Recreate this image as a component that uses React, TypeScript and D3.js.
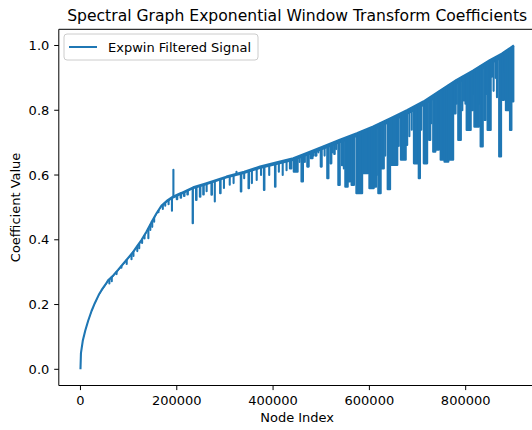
import React from "react";
import * as d3 from "d3";

// Upper envelope of the signal (node index, coefficient)
const envIdx = [0, 1000, 5000, 10000, 16000, 23000, 30000, 38000, 44000, 52000, 58000, 68000, 78000, 88000, 99000, 108000, 117000, 127000, 137000, 147000, 158000, 168000, 179000, 192000, 210000, 234000, 260000, 303000, 340000, 373000, 410000, 442000, 470000, 504000, 540000, 574000, 608000, 643000, 678000, 712000, 746000, 781000, 815000, 850000, 875000, 900000];
const envVal = [0.0, 0.05, 0.09, 0.12, 0.15, 0.18, 0.205, 0.23, 0.245, 0.262, 0.276, 0.29, 0.307, 0.325, 0.344, 0.36, 0.379, 0.4, 0.425, 0.453, 0.482, 0.505, 0.52, 0.533, 0.545, 0.562, 0.574, 0.595, 0.61, 0.626, 0.64, 0.652, 0.668, 0.688, 0.71, 0.729, 0.75, 0.775, 0.8, 0.827, 0.86, 0.894, 0.922, 0.955, 0.975, 1.0];

// Depth of the dense small-scale jitter just below the envelope
const fuzzIdx = [0, 200000, 300000, 400000, 500000, 600000, 700000, 800000, 900000];
const fuzzDepth = [0.004, 0.006, 0.006, 0.008, 0.01, 0.012, 0.015, 0.015, 0.015];

// Excursions away from the envelope: start index, end index, extreme coefficient
const barStart = [60000, 65000, 75000, 85000, 96000, 106000, 110000, 118000, 122000, 128000, 133000, 141000, 145000, 149000, 153000, 162000, 171000, 176000, 183000, 190000, 193000, 200000, 208000, 215000, 222000, 233000, 240000, 248000, 255000, 262000, 272000, 279000, 290000, 298000, 310000, 318000, 324000, 333000, 340000, 349000, 356000, 366000, 375000, 381000, 392000, 404000, 412000, 420000, 428000,
  435000, 443000, 455000, 459000, 466000, 471000, 478000, 484000, 488000, 494000, 499000, 507000, 512500, 519000, 524000, 527000, 531000, 535500, 543000, 547000, 550000, 556000, 563000, 573000, 586000, 600000, 610000, 615500, 618500, 625000, 633000, 638000, 645000, 661000, 665500, 676500,
  683000, 688000, 692500, 702500, 708000, 713000, 724000, 729000, 732500, 738500, 746000, 748000, 756000, 765000, 776500, 781500, 784500, 793000, 796000, 799500, 802000, 812500, 817000, 818000, 829000, 831000, 838500, 843000, 845500, 853000, 858000, 862000, 865000, 869500, 876500, 881000, 883500, 891000, 892000, 896500];
const barEnd = [60000, 65000, 75000, 85000, 96000, 106000, 110000, 118000, 122000, 128000, 133000, 141000, 145000, 149000, 153000, 162000, 171000, 176000, 183000, 190000, 193000, 201000, 209000, 216000, 223000, 233500, 241000, 249000, 256000, 262000, 273000, 279000, 291000, 298000, 310000, 318000, 324000, 334000, 340000, 350000, 356000, 366000, 375000, 382000, 392000, 405000, 412000, 420000, 428000,
  438000, 451000, 455000, 462000, 466000, 474000, 482000, 484000, 490000, 494000, 501000, 507000, 515000, 521000, 524000, 528000, 531000, 538500, 544000, 547000, 555000, 560000, 568000, 585000, 598000, 609000, 614000, 615500, 623500, 630000, 633000, 643000, 658000, 661000, 675500, 678500,
  683000, 688000, 702000, 705000, 708000, 720000, 726500, 729000, 737000, 744500, 746000, 755000, 764000, 774000, 779000, 781500, 790000, 793000, 797500, 799500, 810500, 815000, 817000, 827500, 829000, 835500, 841500, 843000, 852000, 855000, 858000, 862000, 865000, 873500, 879500, 881000, 890000, 891000, 895000, 899000];
const barLow = [0.265, 0.272, 0.294, 0.314, 0.325, 0.34, 0.35, 0.365, 0.374, 0.39, 0.404, 0.405, 0.43, 0.44, 0.456, 0.485, 0.495, 0.505, 0.51, 0.49, 0.616, 0.525, 0.53, 0.535, 0.54, 0.451, 0.523, 0.533, 0.54, 0.55, 0.539, 0.518, 0.544, 0.56, 0.57, 0.575, 0.61, 0.549, 0.59, 0.559, 0.575, 0.585, 0.6, 0.554, 0.6, 0.564, 0.61, 0.6, 0.615,
  0.62, 0.61, 0.64, 0.58, 0.64, 0.626, 0.652, 0.66, 0.66, 0.67, 0.626, 0.66, 0.59, 0.636, 0.67, 0.665, 0.68, 0.569, 0.63, 0.62, 0.564, 0.58, 0.569, 0.544, 0.606, 0.559, 0.564, 0.6, 0.544, 0.62, 0.66, 0.556, 0.631, 0.69, 0.647, 0.693,
  0.72, 0.74, 0.636, 0.59, 0.74, 0.636, 0.708, 0.76, 0.672, 0.678, 0.76, 0.647, 0.641, 0.647, 0.79, 0.82, 0.708, 0.8, 0.83, 0.82, 0.739, 0.8, 0.85, 0.749, 0.82, 0.688, 0.77, 0.85, 0.739, 0.904, 0.86, 0.9, 0.84, 0.657, 0.832, 0.92, 0.8, 0.84, 0.739, 0.827];

const xTicks = [0, 200000, 400000, 600000, 800000];
const yTicks = [0.0, 0.2, 0.4, 0.6, 0.8, 1.0];

const TITLE = "Spectral Graph Exponential Window Transform Coefficients";
const X_LABEL = "Node Index";
const Y_LABEL = "Coefficient Value";
const LEGEND = "Expwin Filtered Signal";

const W = 532, H = 430;
const L = 58.8, R = 535.5, T = 29.3, B = 385.5;
const FONT = "DejaVu Sans, sans-serif";
const BLUE = "#1f77b4";
const LW = 2.1;

export default function App() {
  const x = d3.scaleLinear().domain([-45000, 945000]).range([L, R]);
  const y = d3.scaleLinear().domain([-0.05, 1.05]).range([B, T]);
  const baseAt = d3.scaleLinear().domain(envIdx).range(envVal).clamp(true);
  const depthAt = d3.scaleLinear().domain(fuzzIdx).range(fuzzDepth).clamp(true);

  type P = [number, number];
  const envPts: P[] = envIdx.map((d, i) => [d, envVal[i]]);
  const line = d3.line<P>().x(d => x(d[0])).y(d => y(d[1]));
  const envPath = line(envPts) || "";

  const fuzz = d3.area<number>()
    .x(d => x(d))
    .y0(d => y(baseAt(d) - depthAt(d)))
    .y1(d => y(baseAt(d)));
  const fuzzPath = fuzz(envIdx) || "";

  const barPaths = barStart.map((s, i) => {
    const e = barEnd[i];
    const pts: P[] = [[s, baseAt(s)], [s, barLow[i]], [e, barLow[i]], [e, baseAt(e)]];
    return line(pts) || "";
  });

  return (
    <svg width={W} height={H} style={{ position: "absolute", left: 0, top: 0, background: "#fff" }} fontFamily={FONT}>
      <rect x={0} y={0} width={W} height={H} fill="#fff" />
      <defs>
        <clipPath id="plotclip">
          <rect x={L} y={T} width={R - L} height={B - T} />
        </clipPath>
      </defs>
      <g clipPath="url(#plotclip)">
        <path d={fuzzPath} fill={BLUE} stroke="none" />
        <path d={envPath} fill="none" stroke={BLUE} strokeWidth={LW} strokeLinejoin="round" />
        {barPaths.map((p, i) => (
          <path key={i} d={p} fill={BLUE} stroke={BLUE} strokeWidth={LW} strokeLinejoin="round" />
        ))}
      </g>
      <line x1={L} x2={L} y1={T} y2={B} stroke="#000" strokeWidth={1} />
      <line x1={L} x2={R} y1={B} y2={B} stroke="#000" strokeWidth={1} />
      <line x1={L} x2={R} y1={T} y2={T} stroke="#000" strokeWidth={1} />
      <line x1={R} x2={R} y1={T} y2={B} stroke="#000" strokeWidth={1} />
      {xTicks.map(t => (
        <g key={"x" + t}>
          <line x1={x(t)} x2={x(t)} y1={B} y2={B + 4.6} stroke="#000" strokeWidth={1} />
          <text x={x(t)} y={B + 19} textAnchor="middle" fontSize={13} fill="#000">{String(t)}</text>
        </g>
      ))}
      {yTicks.map(t => (
        <g key={"y" + t}>
          <line x1={L - 4.6} x2={L} y1={y(t)} y2={y(t)} stroke="#000" strokeWidth={1} />
          <text x={L - 9.5} y={y(t) + 4.7} textAnchor="end" fontSize={13} fill="#000">{t.toFixed(1)}</text>
        </g>
      ))}
      <text x={(L + R) / 2} y={422} textAnchor="middle" fontSize={13} fill="#000">{X_LABEL}</text>
      <text transform={`translate(19.5, ${(T + B) / 2}) rotate(-90)`} textAnchor="middle" fontSize={13} fill="#000">{Y_LABEL}</text>
      <text x={(L + R) / 2} y={21} textAnchor="middle" fontSize={15.6} fill="#000">{TITLE}</text>
      <g>
        <rect x={64} y={34} width={194} height={26} rx={3} fill="#fff" fillOpacity={0.8} stroke="#cccccc" strokeWidth={1} />
        <line x1={69} x2={97} y1={47} y2={47} stroke={BLUE} strokeWidth={2} />
        <text x={108} y={51.7} fontSize={13} fill="#000">{LEGEND}</text>
      </g>
    </svg>
  );
}
